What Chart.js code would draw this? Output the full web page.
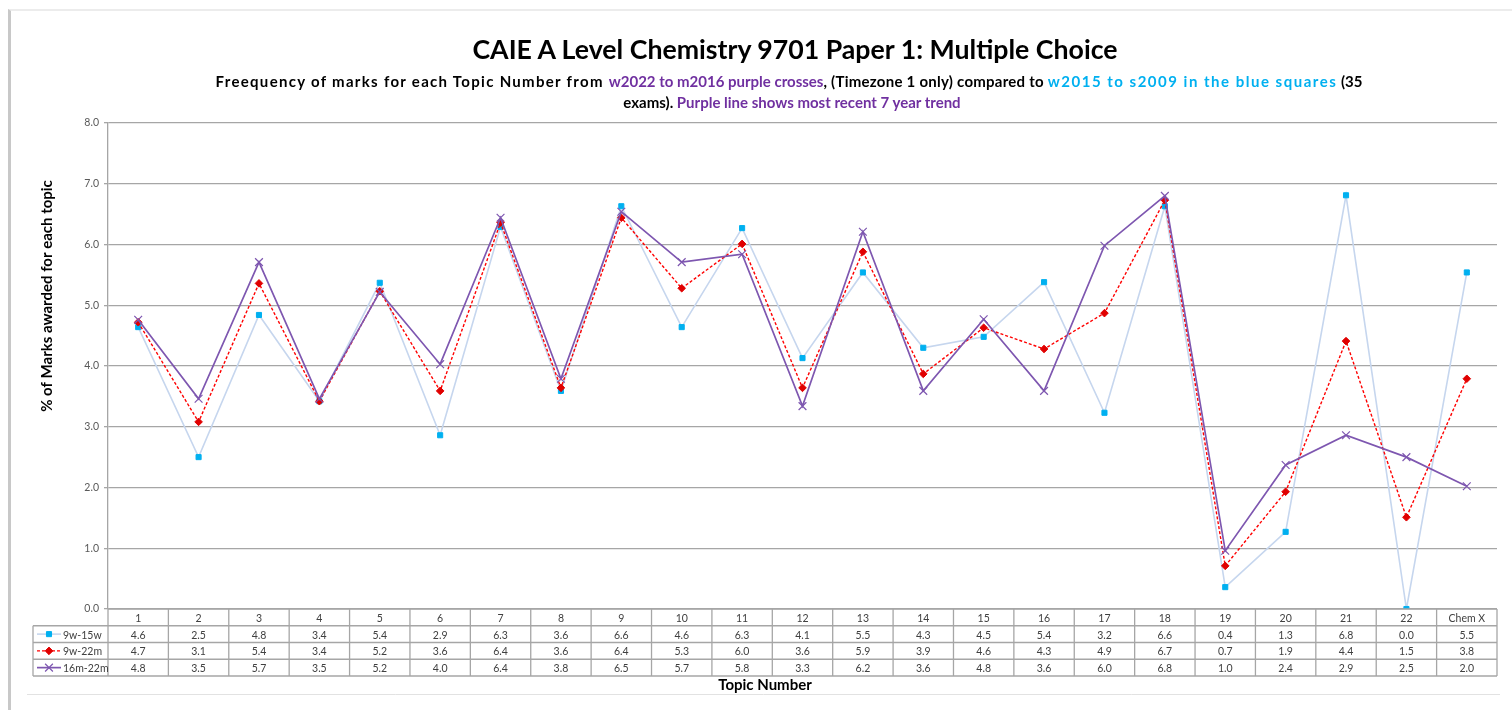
<!DOCTYPE html>
<html>
<head>
<meta charset="utf-8">
<script src="https://cdn.jsdelivr.net/npm/chart.js@4.4.1/dist/chart.umd.min.js"></script>
<style>
  html, body { margin: 0; padding: 0; background: #ffffff; width: 1512px; height: 710px; overflow: hidden; }
  #frame { position: absolute; left: 8px; top: 9px; width: 1520px; height: 720px; border-left: 3px solid #c8c8c8; border-top: 2px solid #ececec; box-sizing: border-box; }
  #wrap { position: absolute; left: 0; top: 0; width: 1512px; height: 710px; }
  .t { position: absolute; left: 0; width: 1512px; text-align: center; font-family: Lato, "Open Sans", sans-serif; font-weight: bold; color: #000; white-space: nowrap; }
  #title { top: 33px; font-size: 26.7px; left: 39px; }
  #sub1 { top: 72px; font-size: 15px; left: 33px; }
  #sub2 { top: 93px; font-size: 15px; left: 36px; }
  .k1 { letter-spacing: 1.3px; }
  .k2 { letter-spacing: 0.25px; }
  .pu { color: #7030A0; }
  .bl { color: #00B0F0; letter-spacing: 1.5px; }
</style>
</head>
<body>
<div id="frame"></div>
<div id="wrap"><canvas id="c" width="1512" height="710"></canvas></div>
<div class="t" id="title">CAIE A Level Chemistry 9701 Paper 1: Multiple Choice</div>
<div class="t" id="sub1"><span class="k1">Freequency of marks for each Topic Number from </span><span class="pu">w2022 to m2016 purple crosses</span><span class="k2">, (Timezone 1 only) compared to </span><span class="bl">w2015 to s2009 in the blue squares</span> (35</div>
<div class="t" id="sub2">exams). <span class="pu">Purple line shows most recent 7 year trend</span></div>
<script>
const categories = ['1','2','3','4','5','6','7','8','9','10','11','12','13','14','15','16','17','18','19','20','21','22','Chem X'];
const seriesNames = ['9w-15w', '9w-22m', '16m-22m'];
const s9w15w  = [4.64,2.50,4.84,3.42,5.37,2.86,6.29,3.59,6.63,4.64,6.27,4.13,5.54,4.30,4.48,5.38,3.23,6.63,0.36,1.27,6.81,0.00,5.54];
const s9w22m  = [4.72,3.08,5.36,3.42,5.23,3.59,6.36,3.64,6.44,5.28,6.01,3.64,5.88,3.87,4.63,4.28,4.87,6.73,0.71,1.93,4.41,1.51,3.79];
const s16m22m = [4.76,3.46,5.71,3.46,5.22,4.03,6.44,3.79,6.54,5.71,5.84,3.34,6.21,3.59,4.77,3.59,5.98,6.80,0.96,2.37,2.86,2.50,2.02];
const yTicks = [0,1,2,3,4,5,6,7,8];
const yTitle = '% of Marks awarded for each topic';
const xTitle = 'Topic Number';

const COL_BLUE_LINE = '#c6d6ee', COL_BLUE = '#00B0F0';
const COL_RED = '#FF0000';
const COL_PURPLE = '#7E57B0';
const FONT = 'Lato, "Open Sans", sans-serif';

const tablePlugin = {
  id: 'tablePlugin',
  afterDraw(chart) {
    const ctx = chart.ctx;
    const x = chart.scales.x;
    const area = chart.chartArea;
    const n = categories.length;
    const w = (area.right - area.left) / n;
    const top = area.bottom;
    const rh = 16.75;
    const legLeft = 33;
    ctx.save();
    ctx.strokeStyle = '#a6a6a6';
    ctx.lineWidth = 1.3;
    for (let r = 0; r <= 4; r++) {
      const y = top + r * rh;
      ctx.beginPath();
      ctx.moveTo(r === 0 ? area.left : legLeft, y);
      ctx.lineTo(area.right, y);
      ctx.stroke();
    }
    for (let i = 0; i <= n; i++) {
      const xx = area.left + i * w;
      ctx.beginPath();
      ctx.moveTo(xx, top);
      ctx.lineTo(xx, top + 4 * rh);
      ctx.stroke();
    }
    ctx.beginPath();
    ctx.moveTo(legLeft, top + rh);
    ctx.lineTo(legLeft, top + 4 * rh);
    ctx.stroke();
    ctx.font = '10.5px ' + FONT;
    ctx.fillStyle = '#404040';
    ctx.textAlign = 'center';
    ctx.textBaseline = 'middle';
    const rows = [s9w15w, s9w22m, s16m22m];
    for (let i = 0; i < n; i++) {
      const cx = x.getPixelForValue(i);
      ctx.fillText(categories[i], cx, top + rh / 2 + 1);
      rows.forEach((arr, r) => {
        ctx.fillText(arr[i].toFixed(1), cx, top + (r + 1.5) * rh + 1);
      });
    }
    const ds = chart.data.datasets;
    ctx.textAlign = 'left';
    seriesNames.forEach((name, r) => {
      const y = top + (r + 1.5) * rh;
      const d = ds[r];
      ctx.save();
      ctx.strokeStyle = d.borderColor;
      ctx.lineWidth = d.borderWidth;
      ctx.setLineDash(d.borderDash || []);
      ctx.beginPath();
      ctx.moveTo(37, y);
      ctx.lineTo(61, y);
      ctx.stroke();
      ctx.restore();
      ctx.save();
      ctx.fillStyle = d.pointBackgroundColor;
      ctx.strokeStyle = d.pointBorderColor;
      ctx.lineWidth = d.pointBorderWidth;
      Chart.helpers.drawPoint(ctx, {
        pointStyle: d.pointStyle, radius: d.pointRadius, borderWidth: d.pointBorderWidth, rotation: 0
      }, 49, y);
      ctx.restore();
      ctx.fillStyle = '#404040';
      ctx.font = '10.5px ' + FONT;
      ctx.fillText(name, 63, y + 1);
    });
    ctx.font = 'bold 15px ' + FONT;
    ctx.fillStyle = '#000';
    ctx.textAlign = 'center';
    ctx.fillText(xTitle, (legLeft + area.right) / 2, top + 4 * rh + 9);
    ctx.save();
    ctx.translate(47, 296);
    ctx.rotate(-Math.PI / 2);
    ctx.font = 'bold 15px ' + FONT;
    ctx.fillText(yTitle, 0, 0);
    ctx.restore();
    ctx.strokeStyle = '#e2e2e2';
    ctx.lineWidth = 1;
    ctx.beginPath();
    ctx.moveTo(27, 694.5);
    ctx.lineTo(1500, 694.5);
    ctx.stroke();
    ctx.restore();
  }
};

const chart = new Chart(document.getElementById('c'), {
  type: 'line',
  data: {
    labels: categories,
    datasets: [
      {
        label: seriesNames[0], data: s9w15w, order: 2,
        borderColor: COL_BLUE_LINE, borderWidth: 1.6,
        pointStyle: 'rect', pointRadius: 3.6, pointBackgroundColor: COL_BLUE, pointBorderColor: COL_BLUE, pointBorderWidth: 1,
        tension: 0
      },
      {
        label: seriesNames[1], data: s9w22m, order: 1,
        borderColor: COL_RED, borderWidth: 1.4, borderDash: [3, 2],
        pointStyle: 'rectRot', pointRadius: 3.8, pointBackgroundColor: '#e00000', pointBorderColor: '#e00000', pointBorderWidth: 1,
        tension: 0
      },
      {
        label: seriesNames[2], data: s16m22m, order: 0,
        borderColor: COL_PURPLE, borderWidth: 1.7,
        pointStyle: 'crossRot', pointRadius: 5.5, pointBackgroundColor: COL_PURPLE, pointBorderColor: COL_PURPLE, pointBorderWidth: 1.2,
        tension: 0
      }
    ]
  },
  options: {
    responsive: false,
    animation: false,
    events: [],
    layout: { padding: { left: 0, right: 15, top: 123, bottom: 101 } },
    plugins: { legend: { display: false }, title: { display: false }, tooltip: { enabled: false } },
    scales: {
      x: { type: 'category', offset: true, display: false },
      y: {
        min: 0, max: 8,
        afterFit(s) { s.width = 108; },
        afterBuildTicks(s) { s.ticks = yTicks.map(v => ({ value: v })); },
        ticks: {
          callback: v => Number(v).toFixed(1),
          font: { family: FONT, size: 10.5 }, color: '#595959', padding: 5
        },
        grid: { color: '#a6a6a6', lineWidth: 1.3, tickLength: 4, drawTicks: true },
        border: { display: true, color: '#a6a6a6', width: 1.3 }
      }
    }
  },
  plugins: [tablePlugin]
});
</script>
</body>
</html>
